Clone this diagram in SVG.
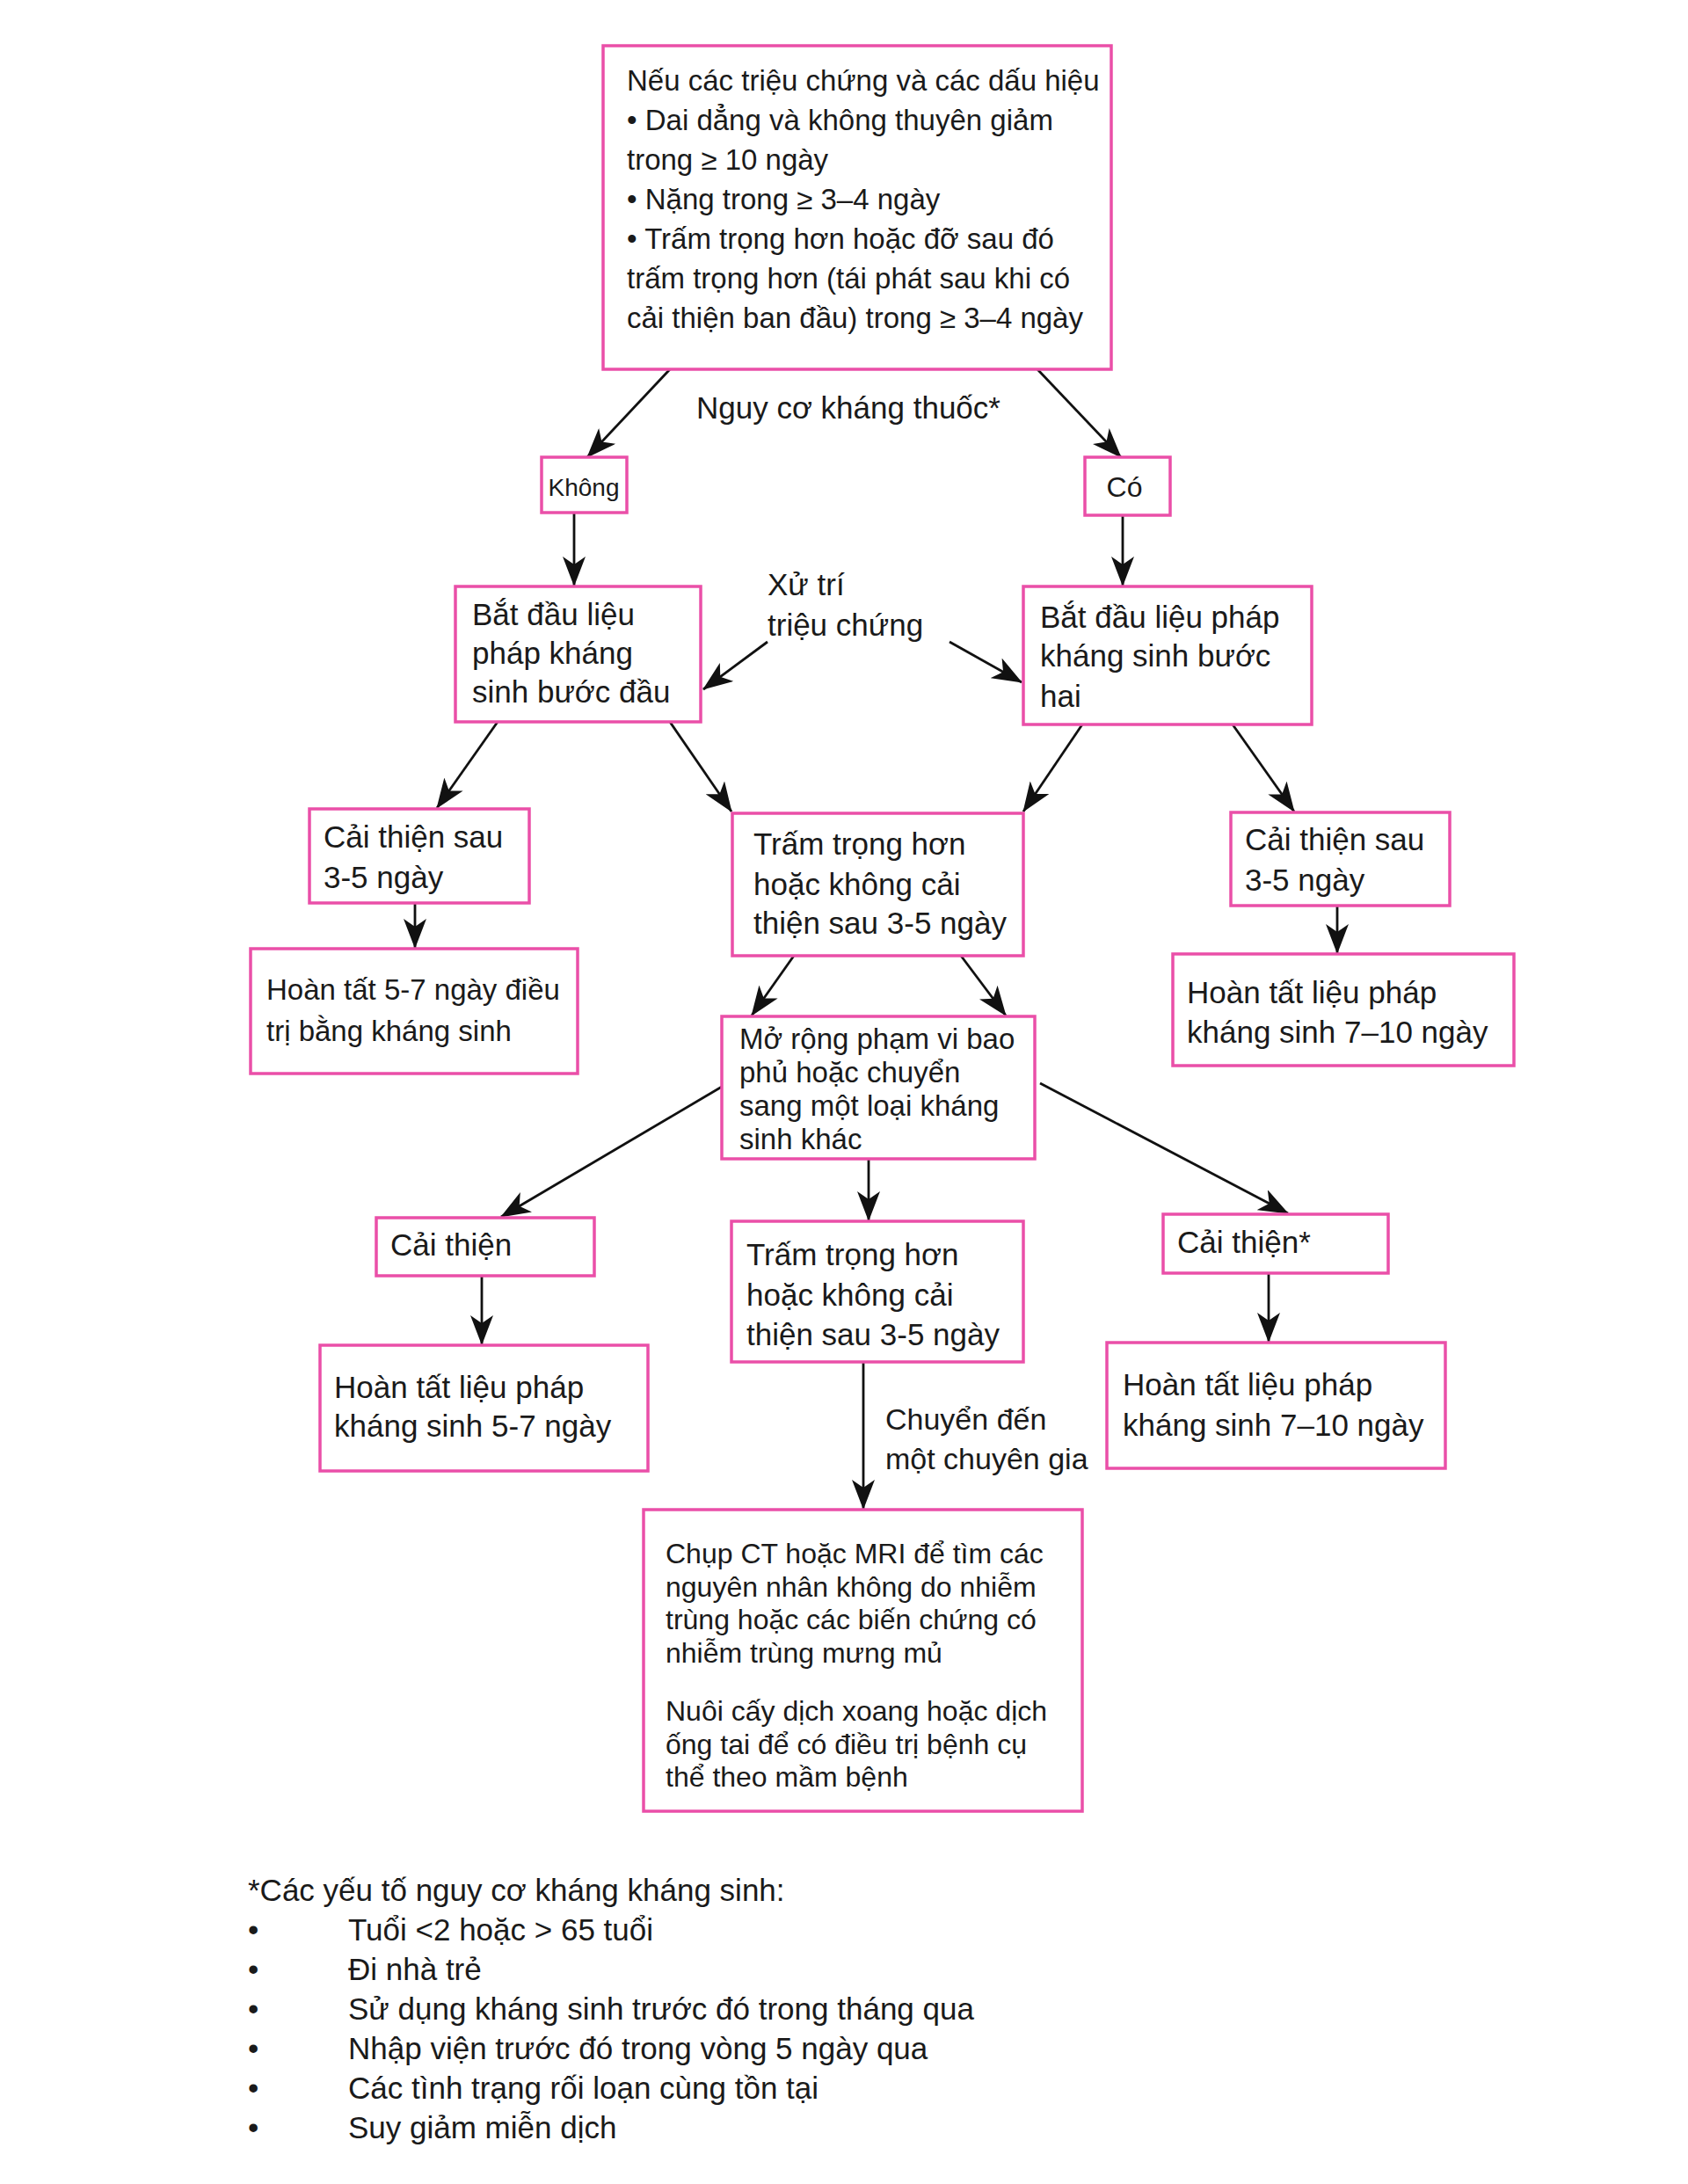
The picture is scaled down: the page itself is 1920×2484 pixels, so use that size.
<svg xmlns="http://www.w3.org/2000/svg" width="1920" height="2484" viewBox="0 0 1920 2484">
<style>
.box{fill:#fff;stroke:#EA4FA8;stroke-width:3.5}
text{font-family:"Liberation Sans",Arial,sans-serif;fill:#1a1a1a;font-size:35px}
.t33{font-size:33px}
.t32{font-size:32px}
.edge{stroke:#111;stroke-width:2.8;fill:none;marker-end:url(#ah)}
</style>
<defs>
<marker id="ah" markerUnits="userSpaceOnUse" markerWidth="34" markerHeight="26" viewBox="0 0 34 26" refX="33" refY="13" orient="auto">
<path d="M0,0 L34,13 L0,26 L9,13 z" fill="#111"/>
</marker>
</defs>
<rect width="1920" height="2484" fill="#fff"/>

<g id="connectors">
<line class="edge" x1="762" y1="420" x2="668" y2="520"/>
<line class="edge" x1="1180" y1="420" x2="1275" y2="520"/>
<line class="edge" x1="653" y1="583" x2="653" y2="666"/>
<line class="edge" x1="1277" y1="586" x2="1277" y2="666"/>
<line class="edge" x1="873" y1="730" x2="800" y2="784"/>
<line class="edge" x1="1080" y1="730" x2="1162" y2="776"/>
<line class="edge" x1="566" y1="821" x2="497" y2="919"/>
<line class="edge" x1="762" y1="821" x2="832" y2="923"/>
<line class="edge" x1="1231" y1="824" x2="1164" y2="923"/>
<line class="edge" x1="1402" y1="824" x2="1472" y2="923"/>
<line class="edge" x1="472" y1="1027" x2="472" y2="1078"/>
<line class="edge" x1="1521" y1="1030" x2="1521" y2="1084"/>
<line class="edge" x1="903" y1="1087" x2="855" y2="1155"/>
<line class="edge" x1="1093" y1="1087" x2="1144" y2="1155"/>
<line class="edge" x1="821" y1="1236" x2="570" y2="1384"/>
<line class="edge" x1="1183" y1="1232" x2="1465" y2="1380"/>
<line class="edge" x1="988" y1="1318" x2="988" y2="1388"/>
<line class="edge" x1="548" y1="1451" x2="548" y2="1529"/>
<line class="edge" x1="982" y1="1549" x2="982" y2="1716"/>
<line class="edge" x1="1443" y1="1448" x2="1443" y2="1526"/>
</g>

<g id="labels">
<text x="792" y="476">Nguy cơ kháng thuốc*</text>
<text x="873" y="677">Xử trí</text>
<text x="873" y="723">triệu chứng</text>
<text x="1007" y="1626" style="font-size:34px">Chuyển đến</text>
<text x="1007" y="1671" style="font-size:34px">một chuyên gia</text>
</g>

<g id="n-top">
<rect class="box" x="686" y="52" width="578" height="368"/>
<text class="t33" x="713" y="103">Nếu các triệu chứng và các dấu hiệu</text>
<text class="t33" x="713" y="148">• Dai dẳng và không thuyên giảm</text>
<text class="t33" x="713" y="193">trong ≥ 10 ngày</text>
<text class="t33" x="713" y="238">• Nặng trong ≥ 3–4 ngày</text>
<text class="t33" x="713" y="283">• Trấm trọng hơn hoặc đỡ sau đó</text>
<text class="t33" x="713" y="328">trấm trọng hơn (tái phát sau khi có</text>
<text class="t33" x="713" y="373">cải thiện ban đầu) trong ≥ 3–4 ngày</text>
</g>

<g id="n-khong">
<rect class="box" x="616" y="520" width="97" height="63"/>
<text x="664" y="564" text-anchor="middle" style="font-size:28px">Không</text>
</g>

<g id="n-co">
<rect class="box" x="1234" y="520" width="97" height="66"/>
<text x="1279" y="565" text-anchor="middle" style="font-size:32px">Có</text>
</g>

<g id="n-start1">
<rect class="box" x="518" y="667" width="279" height="154"/>
<text x="537" y="711">Bắt đầu liệu</text>
<text x="537" y="755">pháp kháng</text>
<text x="537" y="799">sinh bước đầu</text>
</g>

<g id="n-start2">
<rect class="box" x="1164" y="667" width="328" height="157"/>
<text x="1183" y="714">Bắt đầu liệu pháp</text>
<text x="1183" y="758">kháng sinh bước</text>
<text x="1183" y="804">hai</text>
</g>

<g id="n-improve1">
<rect class="box" x="352" y="920" width="250" height="107"/>
<text x="368" y="964">Cải thiện sau</text>
<text x="368" y="1010">3-5 ngày</text>
</g>

<g id="n-complete1">
<rect class="box" x="285" y="1079" width="372" height="142"/>
<text class="t33" x="303" y="1137">Hoàn tất 5-7 ngày điều</text>
<text class="t33" x="303" y="1184">trị bằng kháng sinh</text>
</g>

<g id="n-worse1">
<rect class="box" x="833" y="925" width="331" height="162"/>
<text x="857" y="972">Trấm trọng hơn</text>
<text x="857" y="1018">hoặc không cải</text>
<text x="857" y="1062">thiện sau 3-5 ngày</text>
</g>

<g id="n-improve2">
<rect class="box" x="1400" y="924" width="249" height="106"/>
<text x="1416" y="967">Cải thiện sau</text>
<text x="1416" y="1013">3-5 ngày</text>
</g>

<g id="n-complete2">
<rect class="box" x="1334" y="1085" width="388" height="127"/>
<text x="1350" y="1141">Hoàn tất liệu pháp</text>
<text x="1350" y="1186">kháng sinh 7–10 ngày</text>
</g>

<g id="n-broaden">
<rect class="box" x="821" y="1156" width="356" height="162"/>
<text class="t33" x="841" y="1193">Mở rộng phạm vi bao</text>
<text class="t33" x="841" y="1231">phủ hoặc chuyển</text>
<text class="t33" x="841" y="1269">sang một loại kháng</text>
<text class="t33" x="841" y="1307">sinh khác</text>
</g>

<g id="n-improve3">
<rect class="box" x="428" y="1385" width="248" height="66"/>
<text x="444" y="1428">Cải thiện</text>
</g>

<g id="n-complete3">
<rect class="box" x="364" y="1530" width="373" height="143"/>
<text x="380" y="1590">Hoàn tất liệu pháp</text>
<text x="380" y="1634">kháng sinh 5-7 ngày</text>
</g>

<g id="n-worse2">
<rect class="box" x="832" y="1389" width="332" height="160"/>
<text x="849" y="1439">Trấm trọng hơn</text>
<text x="849" y="1485">hoặc không cải</text>
<text x="849" y="1530">thiện sau 3-5 ngày</text>
</g>

<g id="n-improve4">
<rect class="box" x="1323" y="1381" width="256" height="67"/>
<text x="1339" y="1425">Cải thiện*</text>
</g>

<g id="n-complete4">
<rect class="box" x="1259" y="1527" width="385" height="143"/>
<text x="1277" y="1587">Hoàn tất liệu pháp</text>
<text x="1277" y="1633">kháng sinh 7–10 ngày</text>
</g>

<g id="n-imaging">
<rect class="box" x="732" y="1717" width="499" height="343"/>
<text class="t32" x="757" y="1778">Chụp CT hoặc MRI để tìm các</text>
<text class="t32" x="757" y="1816">nguyên nhân không do nhiễm</text>
<text class="t32" x="757" y="1853">trùng hoặc các biến chứng có</text>
<text class="t32" x="757" y="1891">nhiễm trùng mưng mủ</text>
<text class="t32" x="757" y="1957">Nuôi cấy dịch xoang hoặc dịch</text>
<text class="t32" x="757" y="1995">ống tai để có điều trị bệnh cụ</text>
<text class="t32" x="757" y="2032">thể theo mầm bệnh</text>
</g>

<g id="footnote">
<text x="282" y="2162">*Các yếu tố nguy cơ kháng kháng sinh:</text>
<text x="282" y="2207">•</text><text x="396" y="2207">Tuổi &lt;2 hoặc &gt; 65 tuổi</text>
<text x="282" y="2252">•</text><text x="396" y="2252">Đi nhà trẻ</text>
<text x="282" y="2297">•</text><text x="396" y="2297">Sử dụng kháng sinh trước đó trong tháng qua</text>
<text x="282" y="2342">•</text><text x="396" y="2342">Nhập viện trước đó trong vòng 5 ngày qua</text>
<text x="282" y="2387">•</text><text x="396" y="2387">Các tình trạng rối loạn cùng tồn tại</text>
<text x="282" y="2432">•</text><text x="396" y="2432">Suy giảm miễn dịch</text>
</g>
</svg>
